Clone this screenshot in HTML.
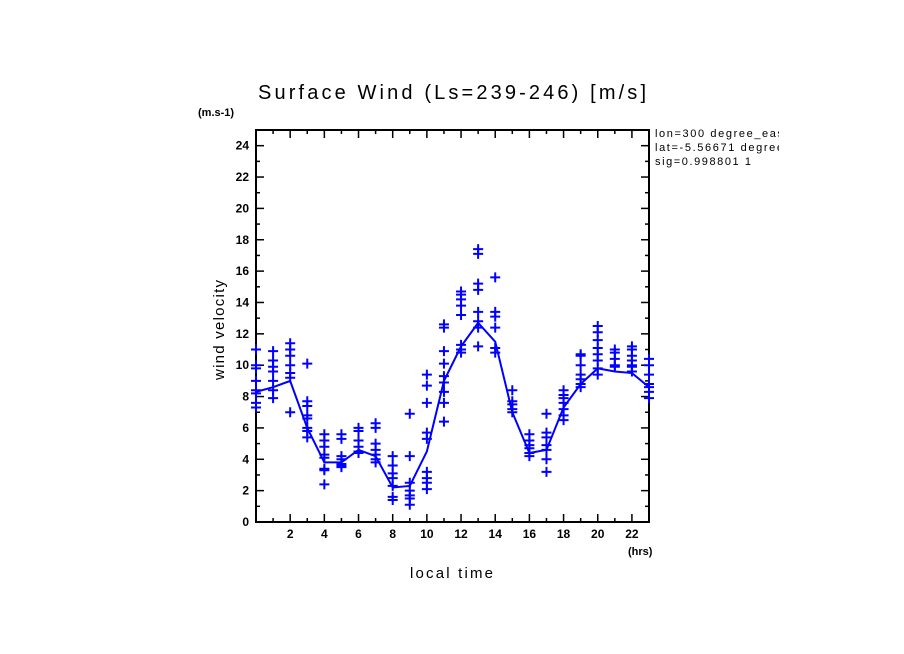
<!DOCTYPE html>
<html><head><meta charset="utf-8"><style>
html,body{margin:0;padding:0;background:#fff;}
svg{display:block;font-family:"Liberation Sans",sans-serif;}
</style></head><body>
<svg id="chart" width="904" height="654">
<text x="258" y="99" font-size="20" textLength="388" lengthAdjust="spacing">Surface Wind  (Ls=239-246) [m/s]</text>
<text x="198" y="116" font-size="11" font-weight="bold">(m.s-1)</text>
<text x="224" y="330" font-size="15" text-anchor="middle" textLength="100" lengthAdjust="spacing" transform="rotate(-90 224 330)">wind velocity</text>
<text x="410" y="578" font-size="15" textLength="83" lengthAdjust="spacing">local time</text>
<text x="628" y="555" font-size="11" font-weight="bold">(hrs)</text>
<g font-size="11">
<text x="655" y="137" textLength="128" lengthAdjust="spacing">lon=300 degree_eas</text>
<text x="655" y="151" textLength="128" lengthAdjust="spacing">lat=-5.56671 degree</text>
<text x="655" y="165" textLength="96" lengthAdjust="spacing">sig=0.998801 1</text>
</g>
<rect x="779" y="125" width="30" height="50" fill="#fff"/>
<g id="axes"></g>
<g id="marks"></g>
</svg>
<script>
const hours=[0,1,2,3,4,5,6,7,8,9,10,11,12,13,14,15,16,17,18,19,20,21,22,23];
const meanValues=[8.3,8.6,9.0,6.0,3.8,3.8,4.6,4.2,2.2,2.3,4.5,9.0,11.2,12.7,11.5,7.0,4.4,4.6,7.3,8.8,9.8,9.6,9.5,8.6];
const samples=[
[11.0,10.0,9.8,9.0,8.4,8.2,7.6,7.3],
[10.9,10.3,9.9,9.6,9.0,8.4,7.9],
[11.4,11.0,10.6,10.0,9.5,9.2,7.0],
[10.1,7.7,7.4,6.8,6.6,6.0,5.8,5.4],
[5.6,5.2,4.8,4.3,4.1,3.4,3.3,2.4],
[5.6,5.3,4.2,4.0,3.7,3.6,3.5],
[6.0,5.8,5.2,4.8,4.5,4.4],
[6.3,6.0,5.0,4.6,4.3,4.0,3.8],
[4.2,3.6,3.1,2.8,2.3,1.6,1.4],
[6.9,4.2,2.5,2.0,1.7,1.5,1.1],
[9.4,8.7,7.6,5.7,5.3,3.2,2.8,2.5,2.1],
[12.6,12.4,10.9,10.1,9.3,8.9,8.3,7.6,6.4],
[14.7,14.5,14.2,13.8,13.2,11.3,11.0,10.8],
[17.4,17.1,15.2,14.8,13.4,12.8,12.4,11.2],
[15.6,13.4,13.1,12.4,11.1,10.8],
[8.4,7.7,7.5,7.2,7.0],
[5.6,5.2,4.9,4.7,4.4,4.2],
[6.9,5.7,5.4,4.9,4.6,4.0,3.2],
[8.4,8.1,7.9,7.6,7.2,6.8,6.5],
[10.7,10.6,10.0,9.4,9.1,8.8,8.6],
[12.5,12.1,11.6,11.1,10.7,10.3,9.8,9.4],
[11.0,10.8,10.4,10.0,9.9],
[11.2,11.0,10.6,10.3,10.0,9.9,9.6],
[10.4,10.0,9.4,8.8,8.6,8.3,7.9]
];
const yTicks=[0,2,4,6,8,10,12,14,16,18,20,22,24];
const xTicks=[2,4,6,8,10,12,14,16,18,20,22];
const X0=256,X1=649,Y0=522,Y1=130;
const xs=h=>X0+(h/23)*(X1-X0);
const ys=v=>Y0-(v/25)*(Y0-Y1);
const NS='http://www.w3.org/2000/svg';
const axes=document.getElementById('axes'),marks=document.getElementById('marks');
function mk(tag,attrs,parent){const e=document.createElementNS(NS,tag);for(const k in attrs)e.setAttribute(k,attrs[k]);parent.appendChild(e);return e;}
const frame=mk('rect',{x:X0,y:Y1,width:X1-X0,height:Y0-Y1,fill:'none',stroke:'#000','stroke-width':2},axes);


for(let v=0;v<=25;v++){const y=ys(v),L=(v%2===0)?8:4;
 mk('line',{x1:X0,x2:X0+L,y1:y,y2:y,stroke:'#000','stroke-width':1.5},axes);
 mk('line',{x1:X1,x2:X1-L,y1:y,y2:y,stroke:'#000','stroke-width':1.5},axes);}
for(let h=0;h<=23;h++){const x=xs(h),L=(h%2===0)?8:4;
 mk('line',{x1:x,x2:x,y1:Y0,y2:Y0-L,stroke:'#000','stroke-width':1.5},axes);
 mk('line',{x1:x,x2:x,y1:Y1,y2:Y1+L,stroke:'#000','stroke-width':1.5},axes);}
yTicks.forEach(v=>{const t=mk('text',{x:X0-7,y:ys(v)+4,'font-size':12,'font-weight':'bold','text-anchor':'end'},axes);t.textContent=v;
 
 });
xTicks.forEach(h=>{const t=mk('text',{x:xs(h),y:538,'font-size':12,'font-weight':'bold','text-anchor':'middle'},axes);t.textContent=h;
 
 });
samples.forEach((arr,i)=>{arr.forEach(v=>{const x=xs(hours[i]),y=ys(v);
 const p=mk('path',{d:`M${x-5},${y}H${x+5}M${x},${y-5}V${y+5}`,stroke:'#0000ff','stroke-width':2,fill:'none'},marks);
 
 });});
const line=mk('polyline',{points:hours.map((h,i)=>xs(h)+','+ys(meanValues[i])).join(' '),fill:'none',stroke:'#0000ff','stroke-width':2},marks);


</script>
</body></html>
